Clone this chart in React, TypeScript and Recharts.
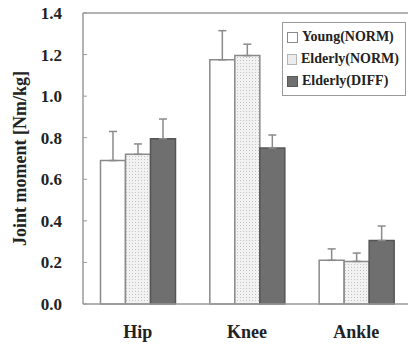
import {
  BarChart,
  Bar,
  XAxis,
  YAxis,
  ErrorBar,
  Legend,
  ReferenceLine,
} from "recharts";

const categories = ["Hip", "Knee", "Ankle"];
const youngNorm = [0.69, 1.175, 0.21];
const youngNormSd = [0.14, 0.14, 0.055];
const elderlyNorm = [0.72, 1.195, 0.205];
const elderlyNormSd = [0.05, 0.055, 0.04];
const elderlyDiff = [0.795, 0.75, 0.305];
const elderlyDiffSd = [0.095, 0.063, 0.07];
const yTicks = [0, 0.2, 0.4, 0.6, 0.8, 1.0, 1.2, 1.4];

const seriesNames = ["Young(NORM)", "Elderly(NORM)", "Elderly(DIFF)"];

const data = categories.map((name, i) => ({
  name,
  young: youngNorm[i],
  youngErr: [0, youngNormSd[i]],
  eNorm: elderlyNorm[i],
  eNormErr: [0, elderlyNormSd[i]],
  eDiff: elderlyDiff[i],
  eDiffErr: [0, elderlyDiffSd[i]],
}));

const font = "'Liberation Serif', 'Times New Roman', serif";
const textColor = "#222";
const axisColor = "#9a9a9a";

const legendSwatches = [
  { fill: "#ffffff", stroke: "#8a8a8a" },
  { fill: "#ececec", stroke: "#b5b5b5" },
  { fill: "#6f6f6f", stroke: "#5a5a5a" },
];

function LegendBox() {
  return (
    <div
      style={{
        border: "1px solid #9a9a9a",
        background: "#fff",
        padding: "3px 6px 3px 4px",
        fontFamily: font,
        fontWeight: "bold",
        fontSize: 14,
        color: textColor,
        lineHeight: "22px",
        width: 112,
      }}
    >
      {seriesNames.map((n, i) => (
        <div key={n} style={{ display: "flex", alignItems: "center", whiteSpace: "nowrap" }}>
          <span
            style={{
              display: "inline-block",
              width: 9,
              height: 9,
              background: legendSwatches[i].fill,
              border: `1px solid ${legendSwatches[i].stroke}`,
              marginRight: 4,
            }}
          />
          {n}
        </div>
      ))}
    </div>
  );
}

export default function App() {
  return (
    <div style={{ position: "absolute", left: 0, top: 0, background: "#fff" }}>
      <BarChart
        width={412}
        height={345}
        data={data}
        margin={{ top: 13, right: 1, bottom: 0, left: 0 }}
        barCategoryGap="16%"
        barGap={0}
      >
        <defs>
          <pattern id="dots" width="3" height="3" patternUnits="userSpaceOnUse">
            <rect width="3" height="3" fill="#f2f2f2" />
            <rect width="1" height="1" fill="#c4c4c4" />
          </pattern>
        </defs>
        <XAxis
          xAxisId="sep"
          type="number"
          domain={[0, 3]}
          ticks={[1, 2]}
          height={0}
          tickSize={-5}
          tick={false}
          axisLine={false}
          tickLine={{ stroke: axisColor }}
        />
        <XAxis
          dataKey="name"
          height={41}
          axisLine={{ stroke: axisColor, strokeWidth: 1.5 }}
          tickLine={false}
          tickMargin={15}
          tick={{ fill: textColor, fontFamily: font, fontWeight: "bold", fontSize: 18 }}
        />
        <YAxis
          width={83}
          domain={[0, 1.4]}
          ticks={yTicks}
          interval={0}
          tickFormatter={(v: number) => v.toFixed(1)}
          axisLine={{ stroke: axisColor, strokeWidth: 1.5 }}
          tickLine={{ stroke: axisColor }}
          tickSize={-4}
          tickMargin={25}
          tick={{ fill: textColor, fontFamily: font, fontWeight: "bold", fontSize: 17 }}
          label={{
            value: "Joint moment [Nm/kg]",
            angle: -90,
            position: "insideLeft",
            offset: 20,
            style: {
              textAnchor: "middle",
              fill: textColor,
              fontFamily: font,
              fontWeight: "bold",
              fontSize: 18,
            },
          }}
        />
        <ReferenceLine y={1.4} stroke={axisColor} strokeWidth={1.5} />
        <Legend
          layout="vertical"
          align="center"
          verticalAlign="middle"
          wrapperStyle={{ top: 22, left: 282, width: 124 }}
          content={() => <LegendBox />}
        />
        <Bar dataKey="young" name={seriesNames[0]} fill="#ffffff" stroke="#8a8a8a" strokeWidth={1.5} isAnimationActive={false}>
          <ErrorBar dataKey="youngErr" width={4} stroke="#8a8a8a" strokeWidth={1.5} />
        </Bar>
        <Bar dataKey="eNorm" name={seriesNames[1]} fill="url(#dots)" stroke="#8a8a8a" strokeWidth={1.5} isAnimationActive={false}>
          <ErrorBar dataKey="eNormErr" width={4} stroke="#8a8a8a" strokeWidth={1.5} />
        </Bar>
        <Bar dataKey="eDiff" name={seriesNames[2]} fill="#6f6f6f" stroke="#555" strokeWidth={1.5} isAnimationActive={false}>
          <ErrorBar dataKey="eDiffErr" width={4} stroke="#8a8a8a" strokeWidth={1.5} />
        </Bar>
      </BarChart>
    </div>
  );
}
